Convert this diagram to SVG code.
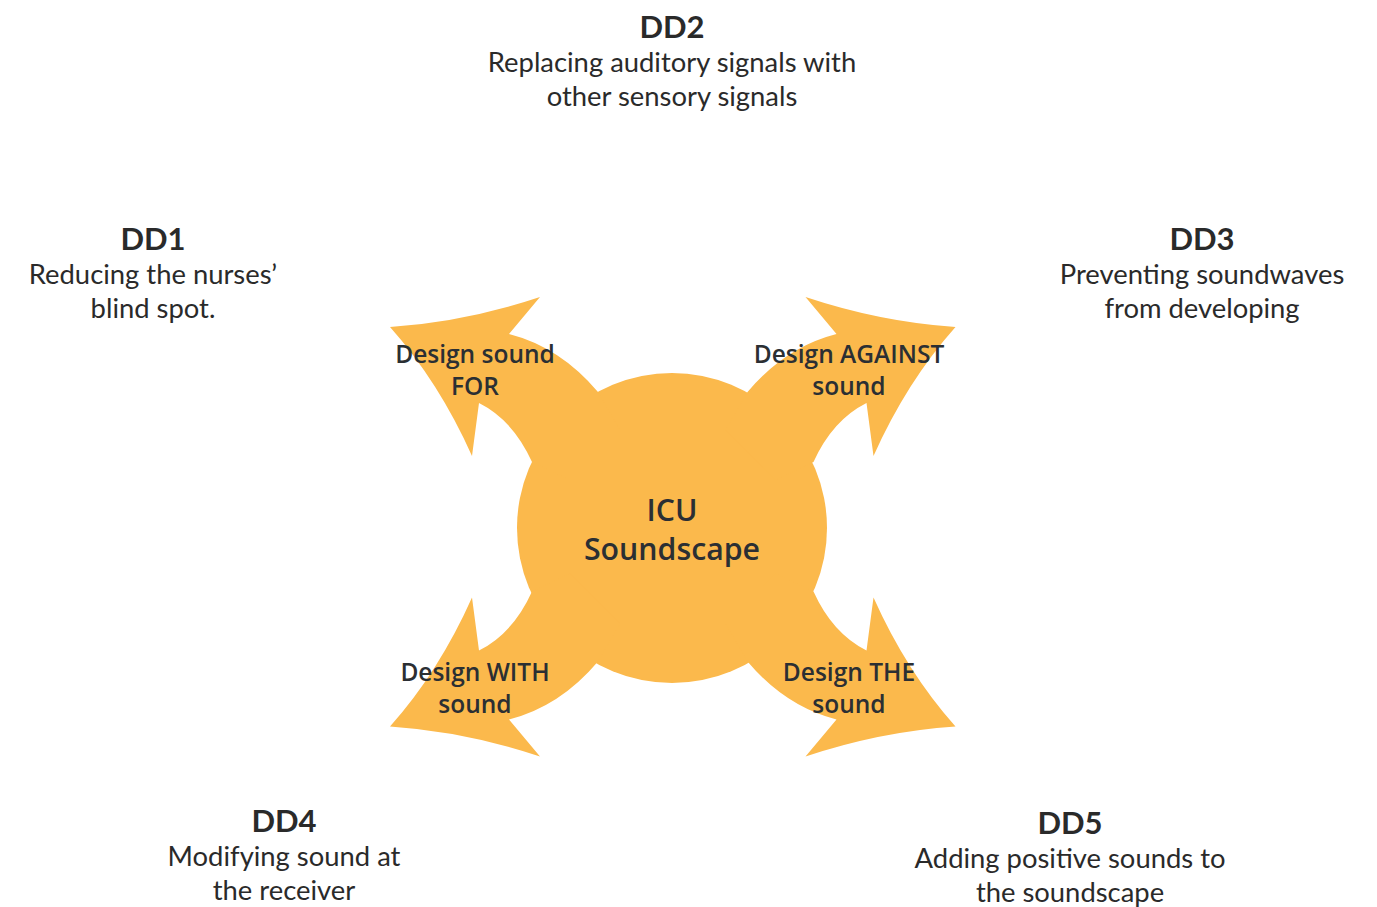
<svg xmlns="http://www.w3.org/2000/svg" width="1377" height="907" viewBox="0 0 1377 907">
  <style>
    .shape { fill: #FBB94C; }
    .hd { font-family: "Lato", "Open Sans", sans-serif; font-weight: 700; font-size: 31px; fill: #2a2a2a; text-anchor: middle; }
    .bd { font-family: "Lato", "Open Sans", sans-serif; font-weight: 400; font-size: 27.4px; fill: #2a2a2a; text-anchor: middle; }
    .lbl { font-family: "Open Sans", "Noto Sans", sans-serif; font-weight: 600; font-size: 24.5px; fill: #2b2f33; text-anchor: middle; }
    .ctr { font-family: "Open Sans", "Noto Sans", sans-serif; font-weight: 600; font-size: 30.3px; fill: #2b2f33; text-anchor: middle; }
  </style>
  <defs>
    <!-- one curved arrow pointing up-left out of the hub -->
    <path id="arrow" d="M 620,430 L 598,392 Q 560,347 509,334 L 540,297 Q 465,322 390,327 Q 439,382 472,456 L 479,403 Q 513,420 532,462 L 570,480 Z"/>
  </defs>

  <!-- hub with four arrows -->
  <g id="hub" class="shape">
    <circle cx="672" cy="528" r="155"/>
    <use href="#arrow"/>
    <use href="#arrow" transform="translate(1345.5,0) scale(-1,1)"/>
    <use href="#arrow" transform="translate(0,1053.5) scale(1,-1)"/>
    <use href="#arrow" transform="translate(1345.5,1053.5) scale(-1,-1)"/>
  </g>

  <g id="center-label">
    <text class="ctr" x="672" y="521">ICU</text>
    <text class="ctr" x="672" y="560">Soundscape</text>
  </g>

  <g id="arrow-for">
    <text class="lbl" x="475" y="363">Design sound</text>
    <text class="lbl" x="475" y="395">FOR</text>
  </g>
  <g id="arrow-against">
    <text class="lbl" x="849" y="363">Design AGAINST</text>
    <text class="lbl" x="849" y="395">sound</text>
  </g>
  <g id="arrow-with">
    <text class="lbl" x="475" y="681">Design WITH</text>
    <text class="lbl" x="475" y="713">sound</text>
  </g>
  <g id="arrow-the">
    <text class="lbl" x="849" y="681">Design THE</text>
    <text class="lbl" x="849" y="713">sound</text>
  </g>

  <g id="dd1">
    <text class="hd" x="153" y="250">DD1</text>
    <text class="bd" x="153" y="284">Reducing the nurses’</text>
    <text class="bd" x="153" y="318">blind spot.</text>
  </g>
  <g id="dd2">
    <text class="hd" x="672" y="38">DD2</text>
    <text class="bd" x="672" y="72">Replacing auditory signals with</text>
    <text class="bd" x="672" y="106">other sensory signals</text>
  </g>
  <g id="dd3">
    <text class="hd" x="1202" y="250">DD3</text>
    <text class="bd" x="1202" y="284">Preventing soundwaves</text>
    <text class="bd" x="1202" y="318">from developing</text>
  </g>
  <g id="dd4">
    <text class="hd" x="284" y="832">DD4</text>
    <text class="bd" x="284" y="866">Modifying sound at</text>
    <text class="bd" x="284" y="900">the receiver</text>
  </g>
  <g id="dd5">
    <text class="hd" x="1070" y="834">DD5</text>
    <text class="bd" x="1070" y="868">Adding positive sounds to</text>
    <text class="bd" x="1070" y="902">the soundscape</text>
  </g>
</svg>
